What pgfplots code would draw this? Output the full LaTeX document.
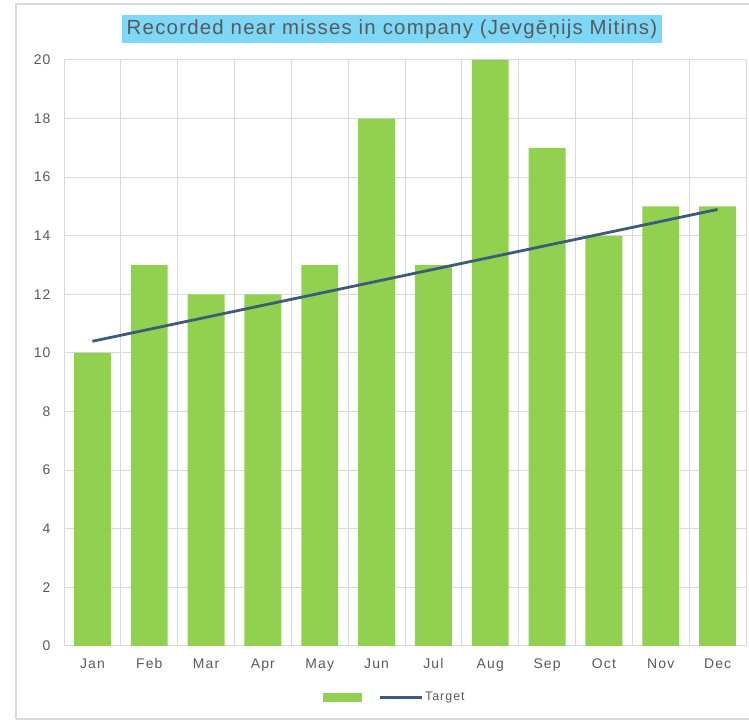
\documentclass[border=0pt]{standalone}
\usepackage{pgfplots}
\pgfplotsset{compat=1.18}
\usepackage{fontspec}
\setmainfont{Liberation Sans}
\newfontfamily\spaced[LetterSpace=8]{Liberation Sans}
\newfontfamily\tspaced[LetterSpace=6]{Liberation Sans}
\definecolor{bargreen}{HTML}{92D050}
\definecolor{linecol}{HTML}{3E5C7A}
\definecolor{gridgray}{HTML}{D9D9D9}
\definecolor{txtgray}{HTML}{595959}
\definecolor{titlebg}{HTML}{7DD8F7}
\begin{document}
\begin{tikzpicture}[x=1bp,y=1bp]
\useasboundingbox (0,0) rectangle (749,721);
\draw[gridgray, line width=1.2bp] (16,2) -- (16,717) -- (752,717);
\draw[gridgray, line width=1.2bp] (16,2) -- (752,2);
\begin{axis}[
  at={(64bp,75bp)}, anchor=south west,
  scale only axis,
  width=682bp, height=586bp,
  xmin=-0.5, xmax=11.5,
  ymin=0, ymax=20,
  ytick={0,2,...,20},
  xtick={0,...,11},
  xticklabels={Jan,Feb,Mar,Apr,May,Jun,Jul,Aug,Sep,Oct,Nov,Dec},
  minor xtick={-0.5,0.5,...,11.5},
  xminorgrids=true, ymajorgrids=true,
  grid style={gridgray, line width=1bp},
  minor grid style={gridgray, line width=1bp},
  axis line style={draw=none},
  major tick length=0pt, minor tick length=0pt,
  tick label style={font=\spaced\fontsize{14}{16}\selectfont, text=txtgray},
  /pgf/number format/assume math mode=true,
  xticklabel style={anchor=base, yshift=-23bp},
  yticklabel style={xshift=-10bp},
  legend style={at={(0.5,-0.072)}, xshift=-10bp, anchor=north, draw=none, fill=none,
    font=\spaced\fontsize{12.5}{14}\selectfont, text=txtgray, legend columns=2,
    /tikz/every even column/.append style={column sep=12bp}},
  legend cell align=left,
]
\addplot[ybar, bar width=0.65, fill=bargreen, draw=none,
  legend image code/.code={\fill[bargreen] (0bp,-4.5bp) rectangle (39bp,4.5bp);}]
  coordinates {(0,10) (1,13) (2,12) (3,12) (4,13) (5,18) (6,13) (7,20) (8,17) (9,14) (10,15) (11,15)};
\addlegendentry{}
\addplot[linecol, line width=2.8bp, sharp plot,
  legend image code/.code={\draw[linecol, line width=2.8bp] (0bp,0bp) -- (42bp,0bp);}]
  coordinates {(0,10.4) (11,14.9)};
\addlegendentry{Target}
\end{axis}
\node[fill=titlebg, text=txtgray, inner xsep=5bp, inner ysep=4bp,
  font=\tspaced\fontsize{20.5}{22}\selectfont] at (392,692) {Recorded near misses in company (Jevgēņijs Mitins)};
\end{tikzpicture}
\end{document}
